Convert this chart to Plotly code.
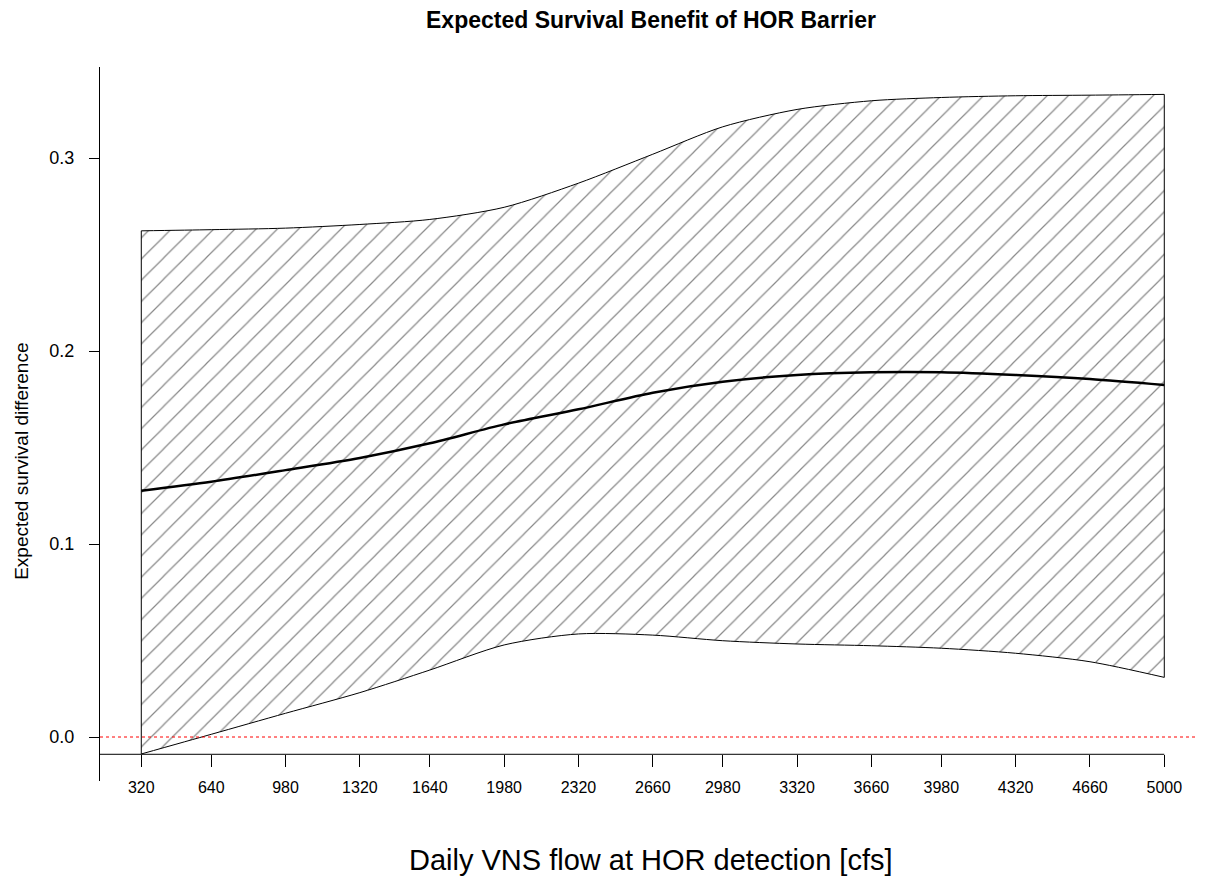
import plotly.graph_objects as go

flow = [320, 640, 980, 1320, 1640, 1980, 2320, 2660, 2980, 3320, 3660, 3980, 4320, 4660, 5000]
upper = [0.2623, 0.2629, 0.2637, 0.2656, 0.2682, 0.2745, 0.2870, 0.3020, 0.3162, 0.3252,
         0.3297, 0.3314, 0.3323, 0.3326, 0.3330]
mean = [0.1276, 0.1323, 0.1383, 0.1446, 0.1522, 0.1620, 0.1698, 0.1784, 0.1841, 0.1876,
        0.1890, 0.1890, 0.1876, 0.1855, 0.1824]
lower = [-0.0088, 0.0014, 0.0123, 0.0230, 0.0347, 0.0477, 0.0534, 0.0528, 0.0499, 0.0482,
         0.0473, 0.0460, 0.0434, 0.0390, 0.0309]
xtick_labels = [str(v) for v in flow]
ytick_vals = [0.0, 0.1, 0.2, 0.3]
ytick_labels = ["0.0", "0.1", "0.2", "0.3"]

X_RANGE = [131.1, 5117.6]
Y_RANGE = [-0.0228, 0.3472]
AXIS_POS = 0.0374  # x-axis drawn at the lowest band value

fig = go.Figure()
fig.add_trace(go.Scatter(x=flow, y=lower, mode="lines",
                         line=dict(color="black", width=1, shape="spline", smoothing=0.8),
                         hoverinfo="skip", showlegend=False))
fig.add_trace(go.Scatter(x=flow, y=upper, mode="lines", fill="tonexty",
                         fillcolor="white",
                         fillpattern=dict(shape="/", fgcolor="#111111", bgcolor="white",
                                          size=15, solidity=0.08),
                         line=dict(color="black", width=1, shape="spline", smoothing=0.8),
                         hoverinfo="skip", showlegend=False))
fig.add_trace(go.Scatter(x=[flow[0], flow[0], None, flow[-1], flow[-1]],
                         y=[lower[0], upper[0], None, lower[-1], upper[-1]],
                         mode="lines", line=dict(color="black", width=1),
                         hoverinfo="skip", showlegend=False))
fig.add_trace(go.Scatter(x=flow, y=mean, mode="lines",
                         line=dict(color="black", width=2.5, shape="spline", smoothing=0.8),
                         hoverinfo="skip", showlegend=False))

# reference line at zero
fig.add_shape(type="line", xref="paper", yref="y", x0=0, x1=1.0147, y0=0, y1=0,
              line=dict(color="red", width=1, dash="dot"), layer="above")
# x-axis line (from y-axis to last tick)
fig.add_shape(type="line", xref="x", yref="paper", x0=X_RANGE[0], x1=flow[-1],
              y0=AXIS_POS, y1=AXIS_POS, line=dict(color="black", width=1), layer="above")

fig.update_layout(
    width=1206, height=877,
    margin=dict(l=92, r=24, t=59, b=104),
    paper_bgcolor="white", plot_bgcolor="white",
    font=dict(family="Liberation Sans, Arial, sans-serif", color="black"),
    hovermode=False,
    xaxis=dict(range=X_RANGE, showgrid=False, zeroline=False, showline=False,
               tickvals=flow, ticktext=xtick_labels, ticks="outside", ticklen=12,
               tickcolor="black", tickwidth=1,
               tickfont=dict(family="Liberation Sans Narrow, Arial Narrow, Liberation Sans", size=16),
               anchor="free", position=AXIS_POS, ticklabelstandoff=7),
    yaxis=dict(range=Y_RANGE, showgrid=False, zeroline=False, showline=True,
               linecolor="black", linewidth=1,
               tickvals=ytick_vals, ticktext=ytick_labels, ticks="outside", ticklen=10,
               tickcolor="black", tickwidth=1, tickfont=dict(size=18),
               ticklabelstandoff=11),
    annotations=[
        dict(text="<b>Expected Survival Benefit of HOR Barrier</b>", xref="paper", yref="paper",
             x=0.5055, y=1.0658, xanchor="center", yanchor="middle",
             showarrow=False, font=dict(size=23)),
        dict(text="Daily VNS flow at HOR detection [cfs]", xref="paper", yref="paper",
             x=0.5055, y=-0.1106, xanchor="center", yanchor="middle",
             showarrow=False, font=dict(size=29)),
        dict(text="Expected survival difference", xref="paper", yref="paper",
             x=-0.0716, y=0.4484, xanchor="center", yanchor="middle", textangle=-90,
             showarrow=False, font=dict(size=19)),
    ],
)

fig.write_html("out.html")
